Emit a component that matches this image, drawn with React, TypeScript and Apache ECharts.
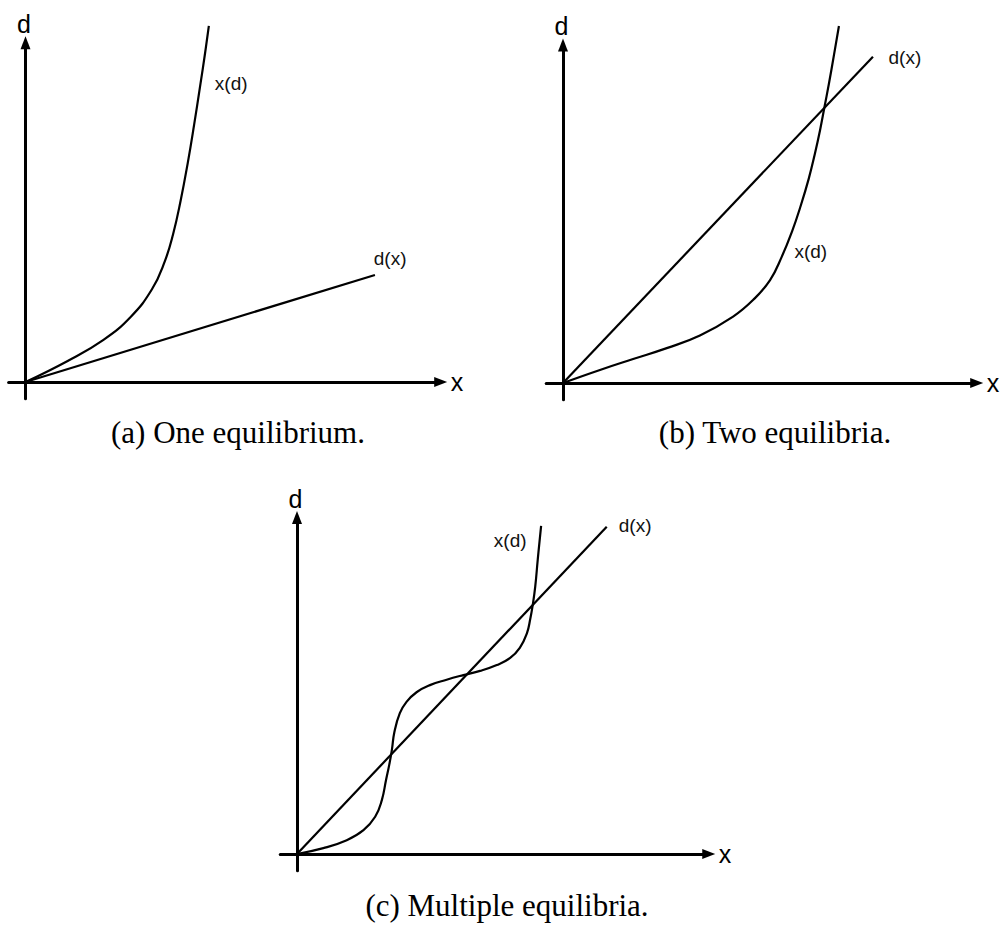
import React, { useEffect, useRef } from "react";
import * as echarts from "echarts";

// Panel (a): one equilibrium — steep x(d) curve and a shallow d(x) line
const aXd: [number, number][] = [
  [0, 0], [1.0, 0.5], [1.85, 1.0], [2.5, 1.55], [3.0, 2.2], [3.3, 2.85],
  [3.5, 3.5], [3.68, 4.3], [3.85, 5.2], [4.0, 6.1], [4.14, 7.0],
  [4.26, 7.8], [4.35, 8.45],
];
const aDx: [number, number][] = [[0, 0], [8.29, 2.54]];

// Panel (b): two equilibria
const bXd: [number, number][] = [
  [0, 0], [0.88, 0.31], [1.67, 0.57], [2.47, 0.83], [3.26, 1.13], [4.05, 1.58],
  [4.53, 1.98], [4.93, 2.45], [5.21, 3.01], [5.45, 3.6], [5.66, 4.22],
  [5.85, 4.86], [6.0, 5.47], [6.12, 6.02], [6.22, 6.54], [6.33, 7.12],
  [6.45, 7.8], [6.57, 8.5],
];
const bDx: [number, number][] = [[0, 0], [7.38, 7.77]];

// Panel (c): multiple equilibria
const cXd: [number, number][] = [
  [0, 0], [0.63, 0.14], [1.19, 0.33], [1.59, 0.57], [1.87, 0.89], [2.03, 1.29],
  [2.13, 1.77], [2.21, 2.15], [2.27, 2.49], [2.33, 2.92], [2.46, 3.37],
  [2.62, 3.64], [2.86, 3.87], [3.18, 4.04], [3.58, 4.17], [3.98, 4.28],
  [4.38, 4.38], [4.78, 4.52], [5.1, 4.69], [5.33, 4.93], [5.5, 5.28],
  [5.58, 5.62], [5.64, 5.96], [5.7, 6.4], [5.76, 7.05], [5.84, 7.85],
];
const cDx: [number, number][] = [[0, 0], [7.41, 7.83]];

// Curve label anchors, in each panel's data units
const aLabels: [string, number, number][] = [["x(d)", 4.88, 7.09], ["d(x)", 8.65, 2.94]];
const bLabels: [string, number, number][] = [["d(x)", 8.14, 7.76], ["x(d)", 5.9, 3.12]];
const cLabels: [string, number, number][] = [["x(d)", 5.1, 7.51], ["d(x)", 8.09, 7.87]];

const captions = ["(a) One equilibrium.", "(b) Two equilibria.", "(c) Multiple equilibria."];

const X_MIN = -0.4;
const X_MAX = 9.85;
const Y_MIN = -0.4;
const Y_MAX = 8.05;

// origin pixel and pixels per unit for each panel
const panels = [
  { ox: 25.5, oy: 382, unit: 42.15, xd: aXd, dx: aDx, labels: aLabels, cap: [238, 432] },
  { ox: 563, oy: 383, unit: 42, xd: bXd, dx: bDx, labels: bLabels, cap: [775, 432] },
  { ox: 297, oy: 854, unit: 41.8, xd: cXd, dx: cDx, labels: cLabels, cap: [507, 905] },
];

const SANS = "Liberation Sans";

export default function App() {
  const ref = useRef<HTMLDivElement>(null);

  useEffect(() => {
    if (!ref.current) return;
    const chart = echarts.init(ref.current, undefined, { renderer: "svg" });

    const grid = panels.map((p) => ({
      left: p.ox + X_MIN * p.unit,
      top: p.oy - Y_MAX * p.unit,
      width: (X_MAX - X_MIN) * p.unit,
      height: (Y_MAX - Y_MIN) * p.unit,
      containLabel: false,
    }));

    const axisLine = {
      show: true,
      onZero: true,
      symbol: ["none", "triangle"],
      symbolSize: [10, 13],
      lineStyle: { color: "#000", width: 3 },
    };

    const xAxis = panels.map((_, i) => ({
      type: "value",
      gridIndex: i,
      min: X_MIN,
      max: X_MAX,
      axisLine,
      axisTick: { show: false },
      axisLabel: { show: false },
      splitLine: { show: false },
      name: "x",
      nameLocation: "end",
      nameGap: 10,
      nameTextStyle: { fontFamily: SANS, fontSize: 25, color: "#000", padding: [0, 0, 4, 0] },
    }));

    const yAxis = panels.map((_, i) => ({
      type: "value",
      gridIndex: i,
      min: Y_MIN,
      max: Y_MAX,
      axisLine,
      axisTick: { show: false },
      axisLabel: { show: false },
      splitLine: { show: false },
      name: "d",
      nameLocation: "end",
      nameGap: 6,
      nameTextStyle: { fontFamily: SANS, fontSize: 25, color: "#000", padding: [0, 3, 0, 0] },
    }));

    const series: any[] = [];
    panels.forEach((p, i) => {
      // x(d): one smooth stroke through all points, placed via the axis scales
      series.push({
        type: "custom",
        coordinateSystem: "cartesian2d",
        xAxisIndex: i,
        yAxisIndex: i,
        data: p.xd,
        clip: false,
        silent: true,
        renderItem: (params: any, api: any) => {
          if (params.dataIndex !== 0) return null;
          return {
            type: "polyline",
            shape: {
              points: p.xd.map((pt) => api.coord(pt)),
              smooth: 0.45,
            },
            style: { stroke: "#000", lineWidth: 2.2, fill: "none" },
          };
        },
      });
      series.push({
        type: "line",
        xAxisIndex: i,
        yAxisIndex: i,
        data: p.dx,
        showSymbol: false,
        clip: false,
        lineStyle: { color: "#000", width: 2.2 },
        markPoint: {
          symbol: "circle",
          symbolSize: 0,
          silent: true,
          label: {
            show: true,
            position: "inside",
            fontFamily: SANS,
            fontSize: 19,
            color: "#111",
          },
          data: p.labels.map(([t, x, y]) => ({
            coord: [x, y],
            label: { formatter: t },
          })),
        },
      });
    });

    const graphic = panels.map((p, i) => ({
      type: "text",
      x: p.cap[0],
      y: p.cap[1],
      style: {
        text: captions[i],
        font: '31px "Liberation Serif"',
        fill: "#000",
        textAlign: "center",
        textVerticalAlign: "middle",
      },
    }));

    chart.setOption({
      animation: false,
      backgroundColor: "#fff",
      grid,
      xAxis,
      yAxis,
      series,
      graphic,
    });

    return () => chart.dispose();
  }, []);

  return (
    <div
      ref={ref}
      style={{ position: "absolute", left: 0, top: 0, width: 1008, height: 926 }}
    />
  );
}
